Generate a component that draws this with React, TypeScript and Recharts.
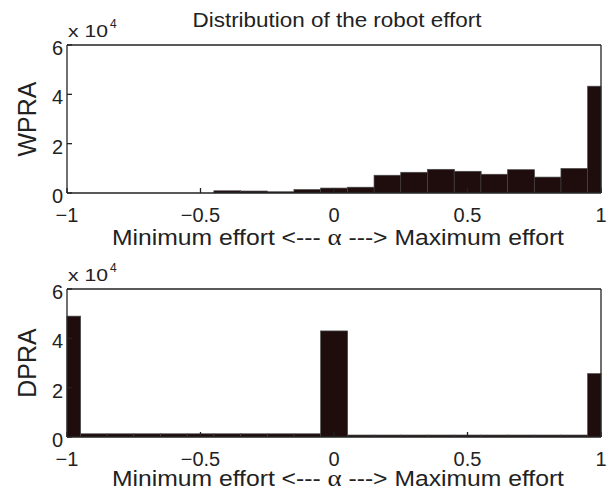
import { BarChart, Bar, XAxis, YAxis } from "recharts"

// histogram bin centres (MATLAB hist, 21 bins over [-1, 1])
const binCenters = [-1, -0.9, -0.8, -0.7, -0.6, -0.5, -0.4, -0.3, -0.2, -0.1, 0, 0.1, 0.2, 0.3, 0.4, 0.5, 0.6, 0.7, 0.8, 0.9, 1]
const wpraCounts = [0, 0, 0, 0, 0, 0, 900, 800, 500, 1400, 2000, 2350, 7200, 8400, 9600, 8800, 7600, 9450, 6450, 9950, 43300]
const dpraCounts = [49000, 1300, 1300, 1300, 1300, 1300, 1300, 1300, 1300, 1300, 43000, 800, 800, 800, 800, 800, 800, 800, 800, 800, 25700]
const xTicks = [-1, -0.5, 0, 0.5, 1]
const yTicks = [0, 20000, 40000, 60000]

const FONT = "'Liberation Sans', Arial, Helvetica, sans-serif"
const INK = "#222"
const BAR_FILL = "#1f0c0d"

const W = 615
const H = 251
const MARGIN = { top: 44, right: 13, bottom: 6, left: 0 }
const Y_AXIS_W = 67
const X_AXIS_H = 52
const PLOT_L = MARGIN.left + Y_AXIS_W
const PLOT_R = W - MARGIN.right - 1
// first and last bins are cut in half by the axis limits
const halfBin = (PLOT_R - PLOT_L) / (binCenters.length - 1) / 2
const binPad = { left: -halfBin, right: -halfBin }

const fmtX = (v: number) => (v < 0 ? "\u2212" + Math.abs(v) : String(v))
const fmtY = (v: number) => String(v / 1e4)

const lineStyle = { stroke: INK, strokeWidth: 1.3 }

// keep the half bins at -1 and 1 inside the axes box
const ClippedBar = (p: any) => {
    const x0 = Math.max(p.x, PLOT_L)
    const x1 = Math.min(p.x + p.width, PLOT_R)
    if (!(p.height > 0) || x1 <= x0) return null
    return (
        <rect x={x0} y={p.y} width={x1 - x0} height={p.height} fill={p.fill} stroke={p.stroke} strokeWidth={p.strokeWidth} />
    )
}

const yLabel = (text: string) => (props: any) => {
    const vb = props.viewBox
    const cx = vb.x + 27
    const cy = vb.y + vb.height / 2
    return (
        <text
            x={cx}
            y={cy}
            transform={`rotate(-90, ${cx}, ${cy})`}
            textAnchor="middle"
            dy="0.36em"
            fontSize={25}
            fontFamily={FONT}
            fill={INK}
        >
            {text}
        </text>
    )
}

const xLabel = (drop: number) => (props: any) => {
    const vb = props.viewBox
    return (
        <text
            x={vb.x + vb.width / 2 + 4}
            y={vb.y + drop}
            textAnchor="middle"
            fontSize={22}
            fontFamily={FONT}
            fill={INK}
            textLength={452}
            lengthAdjust="spacingAndGlyphs"
        >
            {"Minimum effort <--- "}
            <tspan fontFamily="'Liberation Serif', serif" fontSize={24}>
                {"\u03b1"}
            </tspan>
            {" ---> Maximum effort"}
        </text>
    )
}

function Histogram({ counts, name, top, labelDrop }: { counts: number[]; name: string; top: number; labelDrop: number }) {
    const data = binCenters.map((c, i) => ({ bin: c, count: counts[i] }))
    return (
        <div style={{ position: "absolute", left: 0, top, width: W, height: H }}>
            <BarChart width={W} height={H} data={data} margin={MARGIN} barCategoryGap={0} barGap={0}>
                <XAxis
                    xAxisId="bins"
                    dataKey="bin"
                    type="category"
                    padding={binPad}
                    ticks={xTicks}
                    interval={0}
                    tickFormatter={fmtX}
                    height={X_AXIS_H}
                    tickSize={-5}
                    tickMargin={20}
                    tick={{ fontSize: 20, fill: INK, fontFamily: FONT }}
                    axisLine={lineStyle}
                    tickLine={lineStyle}
                    label={{ content: xLabel(labelDrop) }}
                />
                <XAxis
                    xAxisId="top"
                    orientation="top"
                    dataKey="bin"
                    type="category"
                    padding={binPad}
                    ticks={xTicks}
                    interval={0}
                    height={1}
                    tickSize={-5}
                    tick={false}
                    axisLine={lineStyle}
                    tickLine={lineStyle}
                />
                <YAxis
                    yAxisId="left"
                    type="number"
                    domain={[0, 60000]}
                    allowDataOverflow
                    ticks={yTicks}
                    interval={0}
                    tickFormatter={fmtY}
                    width={Y_AXIS_W}
                    tickSize={-5}
                    tickMargin={9}
                    tick={{ fontSize: 20, fill: INK, fontFamily: FONT, dy: 3 }}
                    axisLine={lineStyle}
                    tickLine={lineStyle}
                    label={{ content: yLabel(name) }}
                />
                <YAxis
                    yAxisId="right"
                    orientation="right"
                    type="number"
                    domain={[0, 60000]}
                    allowDataOverflow
                    ticks={yTicks}
                    interval={0}
                    width={1}
                    tickSize={-5}
                    tick={false}
                    axisLine={lineStyle}
                    tickLine={lineStyle}
                />
                <Bar
                    xAxisId="bins"
                    yAxisId="left"
                    dataKey="count"
                    fill={BAR_FILL}
                    stroke="#4a4a4a"
                    strokeWidth={0.7}
                    shape={ClippedBar}
                    isAnimationActive={false}
                />
                {/* ties the mirrored top/right box axes to the data; draws nothing */}
                <Bar
                    xAxisId="top"
                    yAxisId="right"
                    dataKey="count"
                    fill="none"
                    stroke="none"
                    isAnimationActive={false}
                />
            </BarChart>
            <svg width={W} height={50} style={{ position: "absolute", left: 0, top: 0, pointerEvents: "none" }}>
                <text x={68} y={37} fontSize={17} fontFamily={FONT} fill={INK} textLength={40} lengthAdjust="spacingAndGlyphs">
                    x 10
                </text>
                <text x={110} y={28} fontSize={12} fontFamily={FONT} fill={INK}>
                    4
                </text>
            </svg>
        </div>
    )
}

export default function App() {
    return (
        <div style={{ position: "absolute", left: 0, top: 0, width: W, height: 491, overflow: "hidden", background: "#fff" }}>
            <svg width={W} height={30} style={{ position: "absolute", left: 0, top: 0 }}>
                <text
                    x={337}
                    y={27}
                    textAnchor="middle"
                    fontSize={20}
                    fontFamily={FONT}
                    fill={INK}
                    textLength={289}
                    lengthAdjust="spacingAndGlyphs"
                >
                    Distribution of the robot effort
                </text>
            </svg>
            <Histogram counts={wpraCounts} name="WPRA" top={0} labelDrop={52} />
            <Histogram counts={dpraCounts} name="DPRA" top={244} labelDrop={49} />
        </div>
    )
}
